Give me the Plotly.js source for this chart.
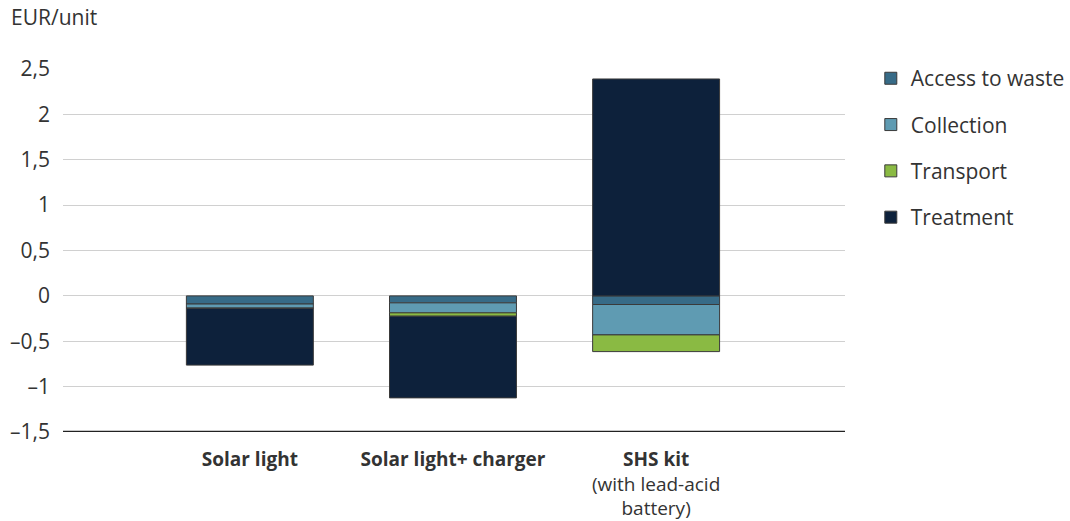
<!DOCTYPE html>
<html><head><meta charset="utf-8">
<script src="https://cdn.plot.ly/plotly-3.0.1.min.js"></script>
<style>body{margin:0;background:#fff}#chart{width:1070px;height:521px}</style>
</head><body><div id="chart"></div>
<script>
const categories = ["<b>Solar light</b>", "<b>Solar light+ charger</b>", "<b>SHS kit</b><br>(with lead-acid<br>battery)"];
const accessToWaste = [-0.09, -0.077, -0.095];
const collection = [-0.045, -0.11, -0.335];
const transport = [-0.003, -0.037, -0.184];
const treatment = [-0.625, -0.9, 2.39];
const yTickVals = [-1.5, -1, -0.5, 0, 0.5, 1, 1.5, 2, 2.5];
const yTickText = ["–1,5", "–1", "–0,5", "0", "0,5", "1", "1,5", "2", "2,5"];

const series = [
  {name: "Access to waste", y: accessToWaste, color: "#376b87"},
  {name: "Collection", y: collection, color: "#5f9bb2"},
  {name: "Transport", y: transport, color: "#8aba43"},
  {name: "Treatment", y: treatment, color: "#0d213b"}
];
const data = series.map((s, i) => ({
  type: "bar", name: s.name, x: [0, 1, 2], y: s.y, width: 0.625,
  legendgroup: "g" + i,
  marker: {color: s.color, line: {color: "#3a3a3a", width: 1}},
  hoverinfo: "name+y"
}));

const layout = {
  width: 1070, height: 521,
  margin: {l: 63, r: 225, t: 69, b: 89, autoexpand: false},
  barmode: "relative",
  paper_bgcolor: "#fff", plot_bgcolor: "#fff",
  font: {family: "Open Sans, sans-serif", size: 21, color: "#333333"},
  xaxis: {
    range: [-0.92, 2.93], tickvals: [0, 1, 2], ticktext: categories,
    showgrid: false, zeroline: false, showline: false, ticks: "",
    ticklabelstandoff: 14,
    tickfont: {size: 19, color: "#333333"}, fixedrange: true
  },
  yaxis: {
    range: [-1.5, 2.5], tickvals: yTickVals, ticktext: yTickText,
    showgrid: true, gridcolor: "#d0d0d0", gridwidth: 1,
    zeroline: false, showline: false, ticks: "", ticklabelstandoff: 12,
    tickfont: {size: 21, color: "#333333"}, fixedrange: true
  },
  shapes: [{type: "line", xref: "paper", yref: "y", x0: 0, x1: 1, y0: -1.5, y1: -1.5,
    line: {color: "#222222", width: 2.5}}],
  annotations: [{text: "EUR/unit", xref: "paper", yref: "paper", x: -54/782, y: 1 + 52/363,
    xanchor: "left", yanchor: "middle", showarrow: false, font: {size: 21, color: "#333333"}}],
  legend: {x: 1.033, y: 1.03, xanchor: "left", yanchor: "top", traceorder: "grouped",
    tracegroupgap: 16, font: {size: 21, color: "#333333"}, bgcolor: "rgba(0,0,0,0)"},
  showlegend: true
};
Plotly.newPlot("chart", data, layout, {displayModeBar: false, staticPlot: true});
</script></body></html>
